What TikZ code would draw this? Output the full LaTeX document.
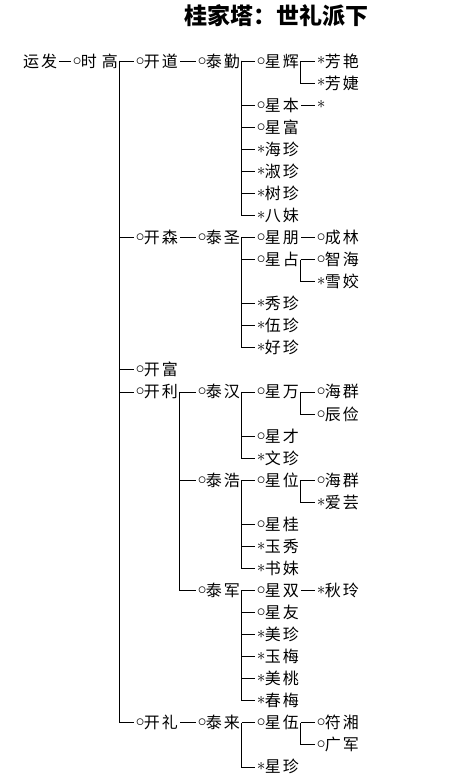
\documentclass[tikz,border=0pt]{standalone}
\usepackage{fontspec}
\newfontfamily\cjk{Noto Sans CJK SC}
\newcommand\mo{\makebox[7.5pt]{\raisebox{2pt}{$\circ$}}}
\newcommand\ms{\makebox[7.5pt]{\raisebox{2.2pt}{$\ast$}}}
\newcommand\nm[2]{#1\hspace{2pt}#2}
\tikzset{
  pn/.style={anchor=west, inner sep=0pt, text height=14pt, text depth=1.9pt,
    font=\cjk\fontsize{16}{16}\selectfont},
  ln/.style={line width=0.8pt, black},
  ttl/.style={inner sep=0pt, font=\cjk\bfseries\fontsize{23}{23}\selectfont},
}
\newcommand\RY[1]{{61+22.06*#1}}
\begin{document}
\begin{tikzpicture}[x=1pt,y=-1pt]
\useasboundingbox (0,0) rectangle (467,783);
\node[ttl] (title) at (276,16) {桂家塔：世礼派下};
% columns (left edges)
\def\cz{23}\def\ca{73.25}\def\cb{136.25}\def\cc{198.25}\def\cd{257.25}\def\ce{317.25}
% level 0-1
\node[pn] (yf) at (\cz,\RY{0}) {\nm{运}{发}};
\node[pn] (sg) at (\ca,\RY{0}) {\mo 时\hspace{5pt}高};
% level 2
\node[pn] (kd) at (\cb,\RY{0}) {\mo\nm{开}{道}};
\node[pn] (ks) at (\cb,\RY{8}) {\mo\nm{开}{森}};
\node[pn] (kf) at (\cb,\RY{14}) {\mo\nm{开}{富}};
\node[pn] (kl) at (\cb,\RY{15}) {\mo\nm{开}{利}};
\node[pn] (kli) at (\cb,\RY{30}) {\mo\nm{开}{礼}};
% level 3
\node[pn] (tq) at (\cc,\RY{0}) {\mo\nm{泰}{勤}};
\node[pn] (ts) at (\cc,\RY{8}) {\mo\nm{泰}{圣}};
\node[pn] (th) at (\cc,\RY{15}) {\mo\nm{泰}{汉}};
\node[pn] (thao) at (\cc,\RY{19}) {\mo\nm{泰}{浩}};
\node[pn] (tj) at (\cc,\RY{24}) {\mo\nm{泰}{军}};
\node[pn] (tl) at (\cc,\RY{30}) {\mo\nm{泰}{来}};
% level 4 under 泰勤
\node[pn] (xh) at (\cd,\RY{0}) {\mo\nm{星}{辉}};
\node[pn] (xb) at (\cd,\RY{2}) {\mo\nm{星}{本}};
\node[pn] (xf) at (\cd,\RY{3}) {\mo\nm{星}{富}};
\node[pn] (hz) at (\cd,\RY{4}) {\ms\nm{海}{珍}};
\node[pn] (sz) at (\cd,\RY{5}) {\ms\nm{淑}{珍}};
\node[pn] (shz) at (\cd,\RY{6}) {\ms\nm{树}{珍}};
\node[pn] (bm) at (\cd,\RY{7}) {\ms\nm{八}{妹}};
% level 5 under 星辉 / 星本
\node[pn] (fy) at (\ce,\RY{0}) {\ms\nm{芳}{艳}};
\node[pn] (fj) at (\ce,\RY{1}) {\ms\nm{芳}{婕}};
\node[pn] (xbc) at (\ce,\RY{2}) {\ms};
% under 泰圣
\node[pn] (xp) at (\cd,\RY{8}) {\mo\nm{星}{朋}};
\node[pn] (xz) at (\cd,\RY{9}) {\mo\nm{星}{占}};
\node[pn] (xiuz) at (\cd,\RY{11}) {\ms\nm{秀}{珍}};
\node[pn] (wz) at (\cd,\RY{12}) {\ms\nm{伍}{珍}};
\node[pn] (hoz) at (\cd,\RY{13}) {\ms\nm{好}{珍}};
\node[pn] (cl) at (\ce,\RY{8}) {\mo\nm{成}{林}};
\node[pn] (zh) at (\ce,\RY{9}) {\mo\nm{智}{海}};
\node[pn] (xjiao) at (\ce,\RY{10}) {\ms\nm{雪}{姣}};
% under 泰汉
\node[pn] (xw) at (\cd,\RY{15}) {\mo\nm{星}{万}};
\node[pn] (xc) at (\cd,\RY{17}) {\mo\nm{星}{才}};
\node[pn] (wenz) at (\cd,\RY{18}) {\ms\nm{文}{珍}};
\node[pn] (hq1) at (\ce,\RY{15}) {\mo\nm{海}{群}};
\node[pn] (cj) at (\ce,\RY{16}) {\mo\nm{辰}{俭}};
% under 泰浩
\node[pn] (xwei) at (\cd,\RY{19}) {\mo\nm{星}{位}};
\node[pn] (xg) at (\cd,\RY{21}) {\mo\nm{星}{桂}};
\node[pn] (yx) at (\cd,\RY{22}) {\ms\nm{玉}{秀}};
\node[pn] (shm) at (\cd,\RY{23}) {\ms\nm{书}{妹}};
\node[pn] (hq2) at (\ce,\RY{19}) {\mo\nm{海}{群}};
\node[pn] (ay) at (\ce,\RY{20}) {\ms\nm{爱}{芸}};
% under 泰军
\node[pn] (xs) at (\cd,\RY{24}) {\mo\nm{星}{双}};
\node[pn] (xy) at (\cd,\RY{25}) {\mo\nm{星}{友}};
\node[pn] (mz) at (\cd,\RY{26}) {\ms\nm{美}{珍}};
\node[pn] (ym) at (\cd,\RY{27}) {\ms\nm{玉}{梅}};
\node[pn] (mt) at (\cd,\RY{28}) {\ms\nm{美}{桃}};
\node[pn] (cm) at (\cd,\RY{29}) {\ms\nm{春}{梅}};
\node[pn] (ql) at (\ce,\RY{24}) {\ms\nm{秋}{玲}};
% under 泰来
\node[pn] (xwu) at (\cd,\RY{30}) {\mo\nm{星}{伍}};
\node[pn] (xzh) at (\cd,\RY{32}) {\ms\nm{星}{珍}};
\node[pn] (fx) at (\ce,\RY{30}) {\mo\nm{符}{湘}};
\node[pn] (gj) at (\ce,\RY{31}) {\mo\nm{广}{军}};
% single-child dashes
\foreach \p/\c in {yf/sg, kd/tq, ks/ts, kli/tl, xb/xbc, xp/cl, xs/ql}
  \draw[ln] ([xshift=2pt]\p.east) -- ([xshift=-2pt]\c.west);
% branching connectors
\foreach \p/\c in {sg/kd, sg/ks, sg/kf, sg/kl, sg/kli,
  tq/xh, tq/xb, tq/xf, tq/hz, tq/sz, tq/shz, tq/bm,
  xh/fy, xh/fj,
  ts/xp, ts/xz, ts/xiuz, ts/wz, ts/hoz,
  xz/zh, xz/xjiao,
  kl/th, kl/thao, kl/tj,
  th/xw, th/xc, th/wenz,
  xw/hq1, xw/cj,
  thao/xwei, thao/xg, thao/yx, thao/shm,
  xwei/hq2, xwei/ay,
  tj/xs, tj/xy, tj/mz, tj/ym, tj/mt, tj/cm,
  tl/xwu, tl/xzh,
  xwu/fx, xwu/gj}
  \draw[ln] ([xshift=1.5pt]\p.east) |- ([xshift=-2pt]\c.west);
\end{tikzpicture}
\end{document}
